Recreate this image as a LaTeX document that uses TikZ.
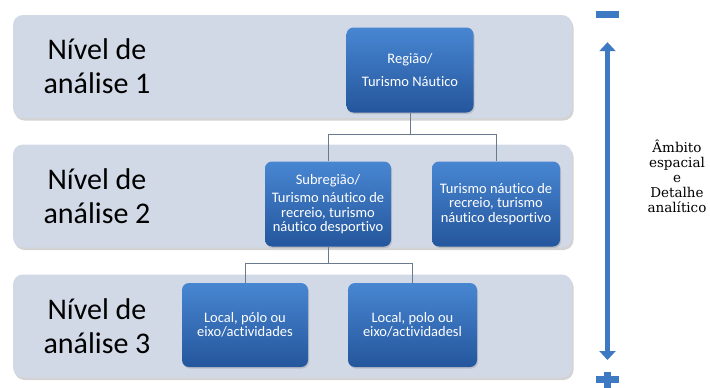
\documentclass[tikz,border=0pt]{standalone}
\usepackage{fontspec}
\setmainfont{Carlito}[Ligatures=NoCommon]
\newfontfamily\notefont{DejaVu Serif}
\usepackage{xcolor}
\usetikzlibrary{shadows,arrows.meta}
\definecolor{bandgray}{RGB}{209,216,230}
\definecolor{boxtop}{RGB}{72,134,210}
\definecolor{boxbottom}{RGB}{36,86,156}
\definecolor{arrowblue}{RGB}{62,122,196}
\definecolor{linkgray}{RGB}{105,122,142}
\tikzset{
	band/.style={fill=bandgray, rounded corners=10pt, minimum width=559pt, minimum height=103pt,
		drop shadow={opacity=0.35, shadow xshift=1.5pt, shadow yshift=-2.5pt}},
	level/.style={align=center, font=\fontsize{30}{34}\selectfont},
	boxnode/.style={top color=boxtop, bottom color=boxbottom, rounded corners=7pt,
		minimum width=126pt, minimum height=85pt, inner sep=2pt, align=center, text=white,
		font=\fontsize{14.5}{14.5}\selectfont, drop shadow={opacity=0.3, shadow xshift=1pt, shadow yshift=-1.5pt}},
	link/.style={draw=linkgray, line width=0.8pt},
	bigarrow/.style={draw=arrowblue, line width=5.5pt, {Triangle[width=16pt,length=9pt]}-{Triangle[width=16pt,length=9pt]}}
}
\begin{document}
\begin{tikzpicture}[x=1pt,y=-1pt]
	\useasboundingbox (0,0) rectangle (710,388);
	% levels
	\node[band] (b1) at (292.5,66.5) {};
	\node[band] (b2) at (292.5,196) {};
	\node[band] (b3) at (292.5,326) {};
	\node[level] (lvl1) at (97,66) {Nível de\\análise 1};
	\node[level] (lvl2) at (97,196) {Nível de\\análise 2};
	\node[level] (lvl3) at (97,326) {Nível de\\análise 3};
	% boxes
	\node[boxnode, minimum width=127pt] (reg) at (410,70) {Região/\\[8pt]Turismo Náutico};
	\node[boxnode] (sub) at (328,204) {Subregião/\\[4pt]Turismo náutico de\\recreio, turismo\\náutico desportivo};
	\node[boxnode, minimum width=128pt] (rec) at (496,204) {Turismo náutico de\\recreio, turismo\\náutico desportivo};
	\node[boxnode, minimum height=84pt] (loc1) at (245,325) {Local, pólo ou\\eixo/actividades};
	\node[boxnode, minimum width=129pt, minimum height=84pt] (loc2) at (412.5,325) {Local, polo ou\\eixo/actividadesl};
	% links
	\coordinate (fork1) at (410,134);
	\coordinate (fork2) at (328,263);
	\draw[link] (reg.south) -- (fork1) -| (sub.north);
	\draw[link] (fork1) -| (rec.north);
	\draw[link] (sub.south) -- (fork2) -| (loc1.north);
	\draw[link] (fork2) -| (loc2.north);
	% scale arrow
	\node[fill=arrowblue, inner sep=0pt, minimum width=23pt, minimum height=7pt] (minus) at (607.5,14.5) {};
	\coordinate (plus) at (607.5,379);
	\fill[arrowblue] ([xshift=-11.5pt,yshift=3.5pt]plus) rectangle ([xshift=11.5pt,yshift=-3.5pt]plus);
	\fill[arrowblue] ([xshift=-3.5pt,yshift=7pt]plus) rectangle ([xshift=3.5pt,yshift=-10pt]plus);
	\draw[bigarrow] ([yshift=-24pt]minus.south) -- ([yshift=19pt]plus);
	\node[align=center, font=\notefont\fontsize{13.5}{15}\selectfont] (note) at (677,176) {Âmbito\\espacial\\e\\Detalhe\\analítico};
\end{tikzpicture}
\end{document}
